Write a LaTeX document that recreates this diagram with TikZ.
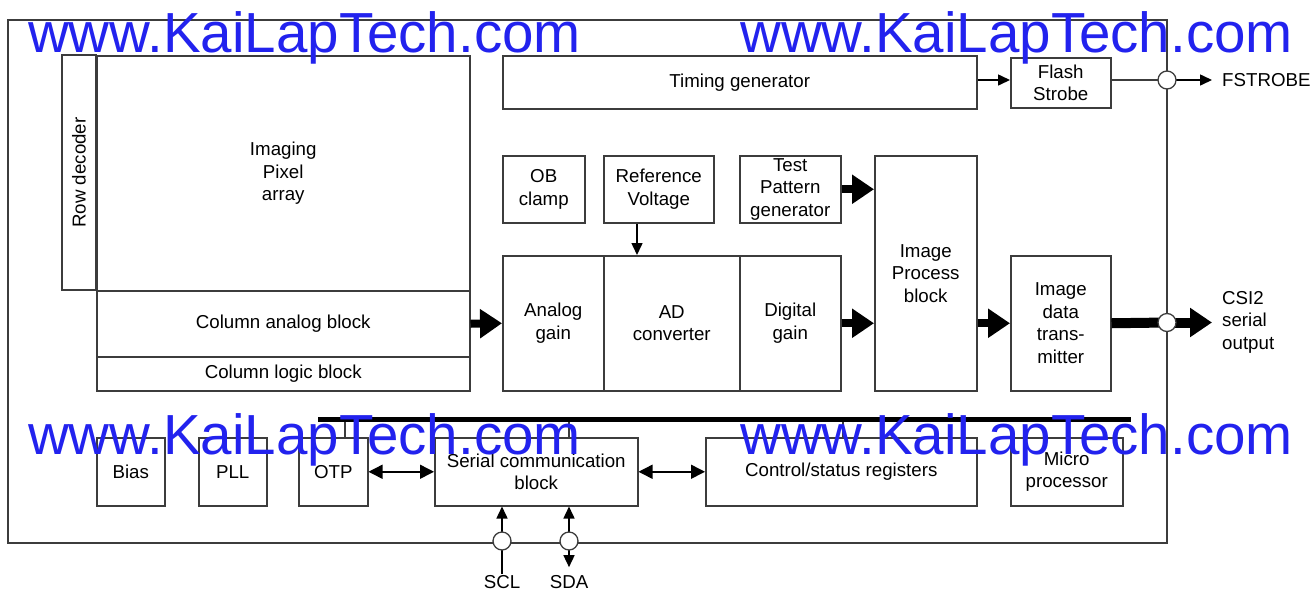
\documentclass[tikz,border=0pt]{standalone}
\usepackage{fontspec}
\setmainfont{Liberation Sans}
\usetikzlibrary{arrows.meta,calc}
\definecolor{wmblue}{RGB}{34,34,238}
\definecolor{linegray}{RGB}{60,60,60}
\tikzset{
  blk/.style={draw=linegray, line width=1.5pt, align=center, inner sep=0pt, anchor=north west,
    font=\fontsize{18.7}{22.5}\selectfont},
  lbl/.style={inner sep=0pt, align=left, font=\fontsize{18.7}{22.5}\selectfont},
  thinarrow/.style={draw=black, line width=1.5pt, -{Triangle[length=12pt,width=11pt]}},
  dblarrow/.style={draw=black, line width=1.5pt, {Triangle[length=14pt,width=14pt]}-{Triangle[length=14pt,width=14pt]}},
  bigarrow/.style={draw=black, line width=8pt, -{Triangle[length=22pt,width=28pt]}},
  port/.style={circle, draw=linegray, fill=white, line width=1.3pt, minimum size=18pt, inner sep=0pt},
  wire/.style={draw=linegray, line width=1.5pt},
  bus/.style={draw=black, line width=5pt},
  wm/.style={text=wmblue, inner sep=0pt, anchor=base west, font=\fontsize{56.5}{60}\selectfont},
}
\begin{document}
\begin{tikzpicture}[x=1pt,y=-1pt]
\useasboundingbox (0,0) rectangle (1313,590);
% outer frame
\draw[wire] (8,20) rectangle (1167,543);
% pixel section
\node[draw=linegray, line width=1.5pt, rotate=90, minimum width=235pt, minimum height=34pt, inner sep=0pt,
  font=\fontsize{18.7}{22.5}\selectfont] (rowdec) at (79,172.5) {Row decoder};
\node[blk, minimum width=373pt, minimum height=235pt] (pixel) at (96,55) {Imaging\\Pixel\\array};
\node[blk, minimum width=373pt, minimum height=66pt] (colana) at (96,290) {Column analog block};
\node[blk, minimum width=373pt, minimum height=34pt] (collog) at (96,356) {Column logic block};
% top row
\node[blk, minimum width=474pt, minimum height=53pt] (timing) at (502,55) {Timing generator};
\node[blk, minimum width=100pt, minimum height=50pt] (flash) at (1010,57) {Flash\\Strobe};
% middle
\node[blk, minimum width=82pt, minimum height=67pt] (ob) at (502,155) {OB\\clamp};
\node[blk, minimum width=110pt, minimum height=67pt] (refv) at (603,155) {Reference\\Voltage};
\node[blk, minimum width=101pt, minimum height=67pt] (testp) at (739,155) {Test\\Pattern\\generator};
\node[blk, minimum width=102pt, minimum height=235pt] (imgproc) at (874,155) {Image\\Process\\block};
\node[blk, minimum width=101pt, minimum height=135pt] (again) at (502,255) {Analog\\gain};
\node[blk, minimum width=136pt, minimum height=135pt] (adc) at (603,255) {AD\\converter};
\node[blk, minimum width=101pt, minimum height=135pt] (dgain) at (739,255) {Digital\\gain};
\node[blk, minimum width=100pt, minimum height=135pt] (imgdata) at (1010,255) {Image\\data\\trans-\\mitter};
% bottom row
\node[blk, minimum width=68pt, minimum height=68pt] (bias) at (96,437) {Bias};
\node[blk, minimum width=68pt, minimum height=68pt] (pll) at (198,437) {PLL};
\node[blk, minimum width=69pt, minimum height=68pt] (otp) at (298,437) {OTP};
\node[blk, minimum width=203pt, minimum height=68pt] (serial) at (434,437) {Serial communication\\block};
\node[blk, minimum width=271pt, minimum height=68pt] (ctrl) at (705,437) {Control/status registers};
\node[blk, minimum width=112pt, minimum height=68pt] (micro) at (1010,437) {Micro\\processor};
% external labels
\node[lbl, anchor=west] (fstrobe) at (1222,80) {FSTROBE};
\node[lbl, anchor=west] (csi) at (1222,322) {CSI2\\serial\\output};
\node[lbl, inner sep=1pt] (scl) at (502,582) {SCL};
\node[lbl, inner sep=1pt] (sda) at (569,582) {SDA};
% bus
\coordinate (busL) at (318,419);
\coordinate (busR) at (1131,419);
\coordinate (t1) at ([xshift=47pt]otp.north west);
\coordinate (t2) at ([xshift=135pt]serial.north west);
\coordinate (t3) at ([xshift=138pt]ctrl.north west);
\coordinate (t4) at (micro.north);
\foreach \t in {t1,t2,t3,t4} \draw[wire] (\t) -- (\t |- busL);
\draw[bus] (busL) -- (busR);
% connectors
\draw[thinarrow] (timing.east |- fstrobe.west) -- (flash.west |- fstrobe.west);
\coordinate (fsp) at (1167,80);
\draw[wire] (flash.east |- fsp) -- (fsp);
\draw[thinarrow, shorten >=10pt] (fsp) -- (fstrobe.west);
\node[port] (fport) at (fsp) {};
\draw[thinarrow] ([xshift=34pt]refv.south west) -- ([xshift=34pt]adc.north west);
\draw[bigarrow] (colana.east) -- (again.west);
\draw[bigarrow] (dgain.east) -- (dgain.east -| imgproc.west);
\draw[bigarrow] (testp.east) -- (testp.east -| imgproc.west);
\draw[bigarrow] (imgproc.east |- imgdata.west) -- (imgdata.west);
\coordinate (csp) at (1167,322.5);
\draw[draw=black, line width=10pt] (imgdata.east) -- (csp);
\draw[draw=black, line width=10pt, -{Triangle[length=22pt,width=28pt]}, shorten >=10pt] (csp) -- (csp -| csi.west);
\node[port] (cport) at (csp) {};
\draw[dblarrow] (otp.east) -- (serial.west);
\draw[dblarrow] (serial.east) -- (ctrl.west);
\draw[line width=1.5pt, -{Triangle[length=12pt,width=11pt]}] (scl.north) -- ([xshift=68pt]serial.south west);
\draw[line width=1.5pt, {Triangle[length=12pt,width=11pt]}-{Triangle[length=12pt,width=11pt]}, shorten <=7pt] (sda.north) -- ([xshift=135pt]serial.south west);
\node[port] (sclport) at (502,541) {};
\node[port] (sdaport) at (569,541) {};
% watermark
\node[wm] (wm1) at (28,52) {www.KaiLapTech.com};
\node[wm] (wm2) at (740,52) {www.KaiLapTech.com};
\node[wm] (wm3) at (28,454) {www.KaiLapTech.com};
\node[wm] (wm4) at (740,454) {www.KaiLapTech.com};
\end{tikzpicture}
\end{document}
